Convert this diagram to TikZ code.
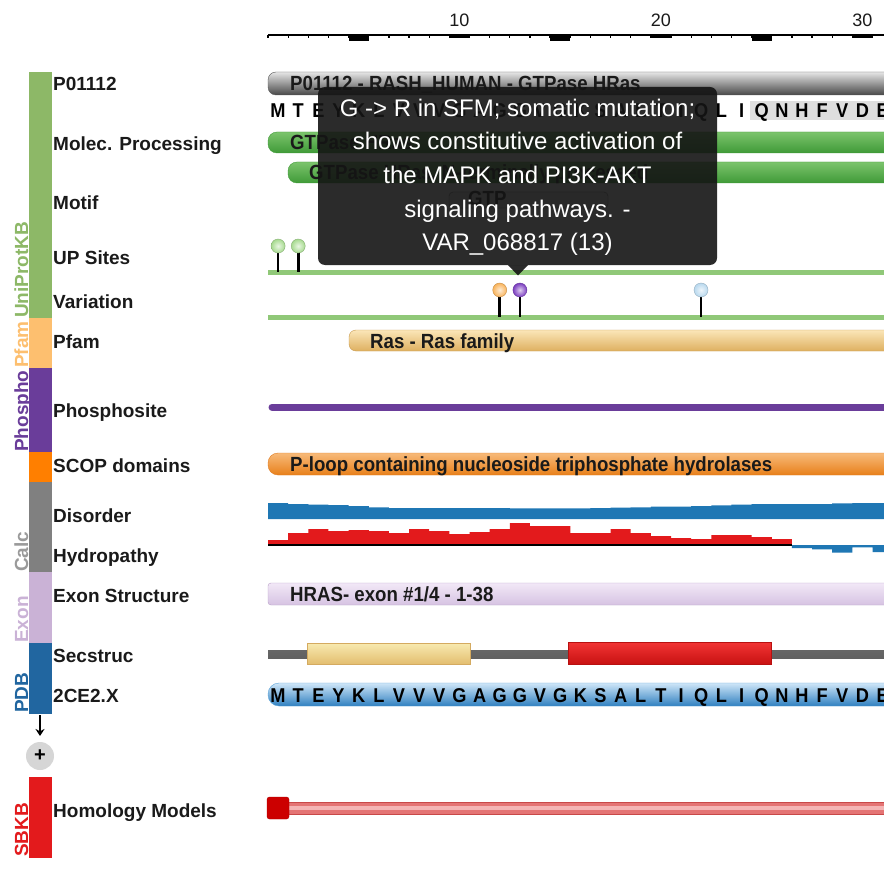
\documentclass[tikz,border=0pt]{standalone}
\usepackage{fontspec}
\setmainfont{Liberation Sans}
\newfontfamily\cf[FakeStretch=0.91]{Liberation Sans}
\usetikzlibrary{arrows.meta}
\definecolor{cUni}{HTML}{8DB867}
\definecolor{cPfam}{HTML}{FDBF6F}
\definecolor{cPho}{HTML}{6A3D9A}
\definecolor{cScop}{HTML}{FF7F00}
\definecolor{cCalc}{HTML}{808080}
\definecolor{cCalcT}{HTML}{9A9A9A}
\definecolor{cExon}{HTML}{CAB2D6}
\definecolor{cPdb}{HTML}{2166A0}
\definecolor{cSbkb}{HTML}{E31A1C}
\definecolor{gTop}{HTML}{7CC46C}
\definecolor{gMid}{HTML}{C4E8B8}
\definecolor{gBot}{HTML}{3F9A38}
\definecolor{gLine}{HTML}{90C878}
\definecolor{disBlue}{HTML}{1F77B4}
\definecolor{hydRed}{HTML}{E31A1C}
\definecolor{txt}{HTML}{1A1A1A}
\definecolor{bGreen}{HTML}{A6DA8E}
\definecolor{bOrange}{HTML}{F9B35A}
\definecolor{bPurple}{HTML}{7B3DC0}
\definecolor{bBlue}{HTML}{B8D8EE}
\begin{document}
\begin{tikzpicture}[x=1pt,y=-1pt,
  rowlab/.style={font=\bfseries\fontsize{19}{22}\selectfont, anchor=base west, inner sep=0, text=txt},
  vlab/.style={font=\bfseries\fontsize{19}{22}\selectfont, rotate=90, anchor=base west, inner sep=0},
  trk/.style={font=\cf\bfseries\fontsize{20.5}{24}\selectfont, anchor=base west, inner sep=0, text=txt},
  seq/.style={font=\cf\bfseries\fontsize{20}{24}\selectfont, anchor=base, inner sep=0, text=black},
  rulerlab/.style={font=\fontsize{18}{20}\selectfont, anchor=base, inner sep=0, text=txt},
  tipline/.style={font=\fontsize{24}{28}\selectfont, anchor=base, inner sep=0, text=white},
  stem/.style={line width=2.6, black},
  lolli/.style={inner color=#1!25!white, outer color=#1, draw=#1!80!black, line width=0.4}
]
\useasboundingbox (0,0) rectangle (884,872);
\fill[white] (0,0) rectangle (884,872);

% ---------- ruler ----------
\draw[line width=1.3] (268,35) -- (890,35);
\foreach \i in {0,...,31} \draw[line width=1.3] ({268+\i*20.15},35) -- ++(0,3.5);
\foreach \i in {5,15,25} \fill ({268+(\i-1)*20.15},35) rectangle ++(20.15,6);
\foreach \i in {10,20,30} \fill ({268+(\i-1)*20.15},35) rectangle ++(20.15,3.5);
\foreach \i in {10,20,30} \node[rulerlab] (r\i) at ({268+(\i-0.5)*20.15},26.5) {\i};

% ---------- left category bar ----------
\fill[cUni] (29,72) rectangle (52,318);
\fill[cPfam] (29,318) rectangle (52,368);
\fill[cPho] (29,368) rectangle (52,452);
\fill[cScop] (29,452) rectangle (52,482);
\fill[cCalc] (29,482) rectangle (52,572);
\fill[cExon] (29,572) rectangle (52,643);
\fill[cPdb] (29,643) rectangle (52,714);
\fill[cSbkb] (29,777) rectangle (52,858);
\node[vlab, text=cUni] (vUni) at (28,318) {UniProtKB};
\node[vlab, text=cPfam] (vPfam) at (28,368) {Pfam};
\node[vlab, text=cPho] (vPho) at (28,452) {Phospho};
\node[vlab, text=cCalcT] (vCalc) at (28,572) {Calc};
\node[vlab, text=cExon] (vExon) at (28,643) {Exon};
\node[vlab, text=cPdb] (vPdb) at (28,713) {PDB};
\node[vlab, text=cSbkb] (vSbkb) at (28,857) {SBKB};
\coordinate (arrA) at (40,715);
\coordinate (arrB) at (40,736);
\draw[line width=1.8, -{Stealth[length=7,width=9]}] (arrA) -- (arrB);
\node[circle, fill=gray!32, minimum size=28, inner sep=0, font=\bfseries\fontsize{20}{22}\selectfont] (plus) at (40,756) {+};

% ---------- row labels ----------
\node[rowlab] (lP) at (53,91) {P01112};
\node[rowlab] (lMP) at (53,151) {Molec. Processing};
\node[rowlab] (lMo) at (53,210) {Motif};
\node[rowlab] (lUP) at (53,264) {UP Sites};
\node[rowlab] (lVa) at (53,308) {Variation};
\node[rowlab] (lPf) at (53,348) {Pfam};
\node[rowlab] (lPh) at (53,417) {Phosphosite};
\node[rowlab] (lSc) at (53,472) {SCOP domains};
\node[rowlab] (lDi) at (53,522) {Disorder};
\node[rowlab] (lHy) at (53,562) {Hydropathy};
\node[rowlab] (lEx) at (53,602) {Exon Structure};
\node[rowlab] (lSe) at (53,662) {Secstruc};
\node[rowlab] (lPd) at (53,702) {2CE2.X};
\node[rowlab] (lHo) at (53,817) {Homology Models};

% ---------- P01112 ----------
\draw[draw=black!65, top color=black!10, bottom color=black!72, rounded corners=8] (268,72) rectangle (900,95);
\node[trk] (tP) at (290,91) {P01112 - RASH\_HUMAN - GTPase HRas};
\fill[black!13] (750,101) rectangle (890,120);
\foreach \c [count=\i] in {M,T,E,Y,K,L,V,V,V,G,A,G,G,V,G,K,S,A,L,T,I,Q,L,I,Q,N,H,F,V,D,E}
  \node[seq] (s\i) at ({268+(\i-0.5)*20.15},118) {\c};

% ---------- Molec. Processing ----------
\draw[draw=gBot, top color=gTop, middle color=gMid, bottom color=gBot, rounded corners=9] (268,132) rectangle (900,153);
\node[trk] (tM1) at (290,150) {GTPase HRas};
\draw[draw=gBot, top color=gTop, middle color=gMid, bottom color=gBot, rounded corners=9] (288,162) rectangle (900,183);
\node[trk] (tM2) at (309,180) {GTPase HRas, N-terminally processed};

% ---------- Motif ----------
\draw[draw=black!60, fill=black!8, rounded corners=4] (449,192) rectangle (608,208);
\node[trk] (tMo) at (468,205) {GTP};

% ---------- UP Sites ----------
\draw[line width=5, gLine] (268,272) -- (900,272);
\foreach \x in {278.1,298.2} {
  \draw[stem] (\x,251) -- (\x,272);
  \shade[lolli=bGreen] (\x,246) circle (7);
}

% ---------- Variation ----------
\draw[line width=5, gLine] (268,317) -- (900,317);
\draw[stem] (499.7,294) -- (499.7,317);
\draw[stem] (519.9,294) -- (519.9,317);
\draw[stem] (701.0,294) -- (701.0,317);
\shade[lolli=bOrange] (499.7,290) circle (7);
\shade[lolli=bPurple] (519.9,290) circle (7);
\shade[lolli=bBlue] (701.0,290) circle (7);

% ---------- Pfam ----------
\definecolor{pfT}{HTML}{FBE6B8}\definecolor{pfB}{HTML}{DEB060}\definecolor{pfD}{HTML}{C89A50}
\draw[draw=pfD, top color=pfT, bottom color=pfB, rounded corners=7] (349,330) rectangle (900,351);
\node[trk] (tPf) at (370,348) {Ras - Ras family};

% ---------- Phosphosite ----------
\draw[line width=7, cPho, line cap=round] (272,407) -- (900,407);

% ---------- SCOP ----------
\definecolor{scT}{HTML}{F7BA7A}\definecolor{scB}{HTML}{E8801A}\definecolor{scD}{HTML}{E07B20}
\draw[draw=scD, top color=scT, bottom color=scB, rounded corners=10] (268,453) rectangle (900,475);
\node[trk] (tSc) at (290,471) {P-loop containing nucleoside triphosphate hydrolases};

% ---------- Disorder ----------
\fill[disBlue] (268,519)
  \foreach \i/\t in {1/503,2/504,3/504.7,4/505,5/506,6/507.3,7/508,8/508,9/508,10/508,11/508,12/508,13/508.3,14/508.3,15/508.3,16/508.3,17/508,18/507.7,19/507.3,20/506.7,21/506.5,22/506,23/505.3,24/504.7,25/504,26/504,27/504,28/504,29/503.3,30/503,31/503}
  { -- ({268+(\i-1)*20.15},\t) -- ({268+\i*20.15},\t) } -- (892,519) -- cycle;

% ---------- Hydropathy ----------
\fill[hydRed] (268,545)
  \foreach \i/\t in {1/540,2/533,3/529,4/531,5/530,6/531,7/533,8/529,9/531,10/534,11/532,12/529,13/523,14/526,15/526,16/533,17/533,18/529,19/533,20/536,21/538,22/539,23/535,24/535,25/537,26/539}
  { -- ({268+(\i-1)*20.15},\t) -- ({268+\i*20.15},\t) } -- (791.9,545) -- cycle;
\fill[disBlue] (791.9,545)
  \foreach \i/\t in {27/548,28/549.3,29/552.7,30/547.3,31/552}
  { -- ({268+(\i-1)*20.15},\t) -- ({268+\i*20.15},\t) } -- (892,545) -- cycle;
\draw[line width=1.6, black] (268,545) -- (791.9,545);

% ---------- Exon ----------
\definecolor{exT}{HTML}{F2E8F7}\definecolor{exB}{HTML}{D6C3E2}\definecolor{exD}{HTML}{B8A0C8}
\draw[draw=exD, top color=exT, bottom color=exB, rounded corners=3] (268,583) rectangle (900,605);
\node[trk] (tEx) at (290,601) {HRAS- exon \#1/4 - 1-38};

% ---------- Secstruc ----------
\shade[top color=black!60, middle color=black!28, bottom color=black!62] (268,650.5) rectangle (900,658.5);
\definecolor{ssyT}{HTML}{F8EAB0}\definecolor{ssyB}{HTML}{E3BE70}\definecolor{ssyD}{HTML}{D4AA60}
\definecolor{ssrT}{HTML}{F23434}\definecolor{ssrB}{HTML}{C81212}\definecolor{ssrD}{HTML}{B81010}
\draw[draw=ssyD, top color=ssyT, bottom color=ssyB] (307,643) rectangle (470,664);
\draw[draw=ssrD, top color=ssrT, bottom color=ssrB] (568,642) rectangle (771,664);

% ---------- 2CE2.X ----------
\definecolor{pdT}{HTML}{CFE6F8}\definecolor{pdM}{HTML}{7AB8E6}\definecolor{pdB}{HTML}{2F80C0}\definecolor{pdD}{HTML}{5BA3D8}
\draw[draw=pdD, top color=pdT, middle color=pdM, bottom color=pdB, rounded corners=11] (268,683) rectangle (900,706);
\foreach \c [count=\i] in {M,T,E,Y,K,L,V,V,V,G,A,G,G,V,G,K,S,A,L,T,I,Q,L,I,Q,N,H,F,V,D,E}
  \node[seq] (p\i) at ({268+(\i-0.5)*20.15},702) {\c};

% ---------- Homology Models ----------
\definecolor{hmF}{HTML}{E47474}\definecolor{hmL}{HTML}{F4B4B4}\definecolor{hmD}{HTML}{C84848}
\draw[draw=hmD, fill=hmF] (280,802) rectangle (900,814);
\fill[hmL] (280,806) rectangle (900,809.5);
\draw[draw=black!30!red, fill=red!80!black, rounded corners=2.5] (267,797) rectangle (289,819);

% ---------- tooltip ----------
\fill[black!92, opacity=0.9, rounded corners=7] (318,87) rectangle (717,265);
\fill[black!92, opacity=0.9] (508,265) -- (518,275.5) -- (528,265) -- cycle;
\node[tipline] (tt1) at (517.5,116.5) {G -> R in SFM; somatic mutation;};
\node[tipline] (tt2) at (517.5,150) {shows constitutive activation of};
\node[tipline] (tt3) at (517.5,183.5) {the MAPK and PI3K-AKT};
\node[tipline] (tt4) at (517.5,217) {signaling pathways. -};
\node[tipline] (tt5) at (517.5,250.5) {VAR\_068817 (13)};
\end{tikzpicture}
\end{document}
